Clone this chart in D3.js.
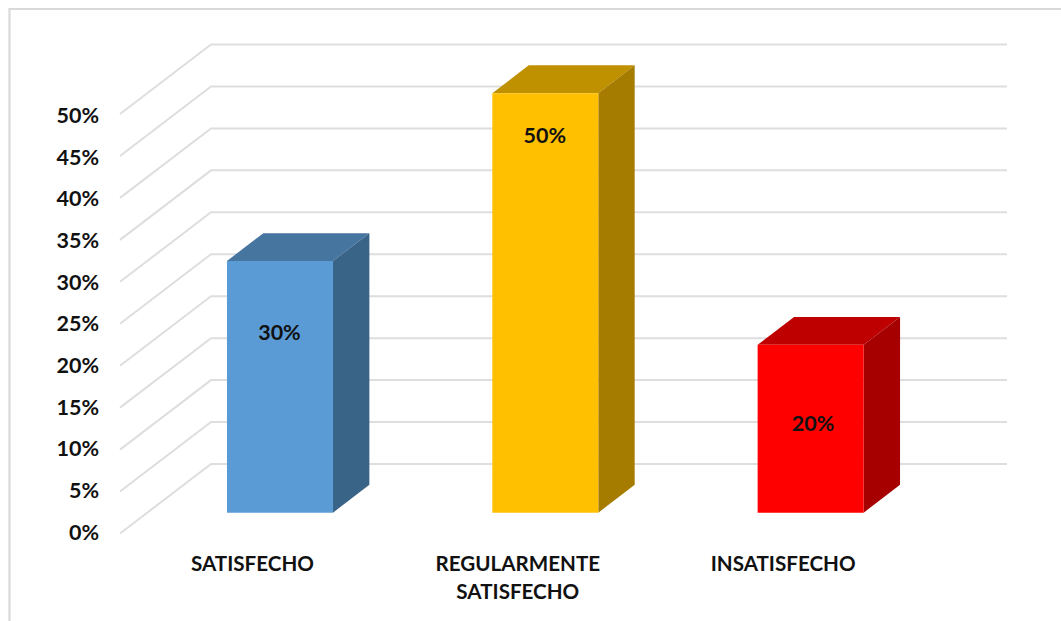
<!DOCTYPE html>
<html><head><meta charset="utf-8">
<script src="https://cdn.jsdelivr.net/npm/d3@7"></script>
<style>html,body{margin:0;padding:0;background:#fff;overflow:hidden}svg{display:block}
text{font-family:Lato,"Open Sans",sans-serif;font-weight:700;fill:#111}</style>
</head><body><svg id="c" width="1061" height="621"></svg>
<script>
const categories = [["SATISFECHO"],["REGULARMENTE","SATISFECHO"],["INSATISFECHO"]];
const values = [30,50,20];
const faceColors = ["#5B9BD5","#FFC000","#FF0000"];
const topColors = ["#4675A0","#BF9000","#BF0000"];
const sideColors = ["#3A6487","#A67C00","#A60000"];
const yTicks = [0,5,10,15,20,25,30,35,40,45,50];

const svg = d3.select("#c");
// frame
svg.append("path").attr("d","M9.5,621V9H1061").attr("fill","none").attr("stroke","#D9D9D9").attr("stroke-width",2.2);

// oblique projection: x along categories, v value, z depth (0 front..1 back)
const y = d3.scaleLinear().domain([0,50]).range([533.5,114]);
const yLabel = d3.scaleLinear().domain([0,50]).range([532.5,115.5]);
const x = d3.scaleBand().domain(d3.range(3)).range([120,916]).paddingInner(0).paddingOuter(0);
const depthX = 91, depthY = 69.5;
const px = (a,z)=>a+z*depthX;
const py = (v,z)=>y(v)-z*depthY;

const grid = svg.append("g").attr("fill","none").attr("stroke","#DEDEDE").attr("stroke-width",2);
yTicks.forEach(t=>{
  grid.append("path").attr("d",d3.line()([[px(x.range()[0],0),py(t,0)],[px(x.range()[0],1),py(t,1)],[px(x.range()[1],1),py(t,1)]]));
});

// y axis labels
const axis = d3.axisLeft(yLabel).tickValues(yTicks).tickSize(0).tickPadding(21).tickFormat(d=>d+"%");
const ag = svg.append("g").attr("transform","translate(120,0)").call(axis);
ag.select(".domain").remove();
ag.selectAll("text").attr("font-size",21.5).attr("dy","0.32em");

// bars
const z0=0.3,z1=0.7,w=106;
const labelDy=[72,42.5,78.5];
const labelDx=[-0.5,-0.5,2.5];
values.forEach((v,i)=>{
  const c = x(i)+x.bandwidth()/2;
  const cx = c+z0*depthX;
  const l=cx-w/2,r=cx+w/2,dx=(z1-z0)*depthX;
  const f=p=>d3.line()(p)+"Z";
  const g=svg.append("g");
  g.append("path").attr("fill",topColors[i]).attr("d",f([[l,py(v,z0)],[r,py(v,z0)],[r+dx,py(v,z1)],[l+dx,py(v,z1)]]));
  g.append("path").attr("fill",sideColors[i]).attr("d",f([[r,py(v,z0)],[r+dx,py(v,z1)],[r+dx,py(0,z1)],[r,py(0,z0)]]));
  g.append("path").attr("fill",faceColors[i]).attr("d",f([[l,py(v,z0)],[r,py(v,z0)],[r,py(0,z0)],[l,py(0,z0)]]));
  g.append("text").attr("x",cx+labelDx[i]).attr("y",py(v,z0)+labelDy[i]).attr("dy","0.34em").attr("text-anchor","middle").attr("font-size",21.5).text(v+"%");
  const t=svg.append("text").attr("text-anchor","middle").attr("font-size",20.6).attr("y",571);
  categories[i].forEach((s,k)=>t.append("tspan").attr("x",cx-27.5).attr("y",571+k*28).text(s));
});
</script></body></html>
